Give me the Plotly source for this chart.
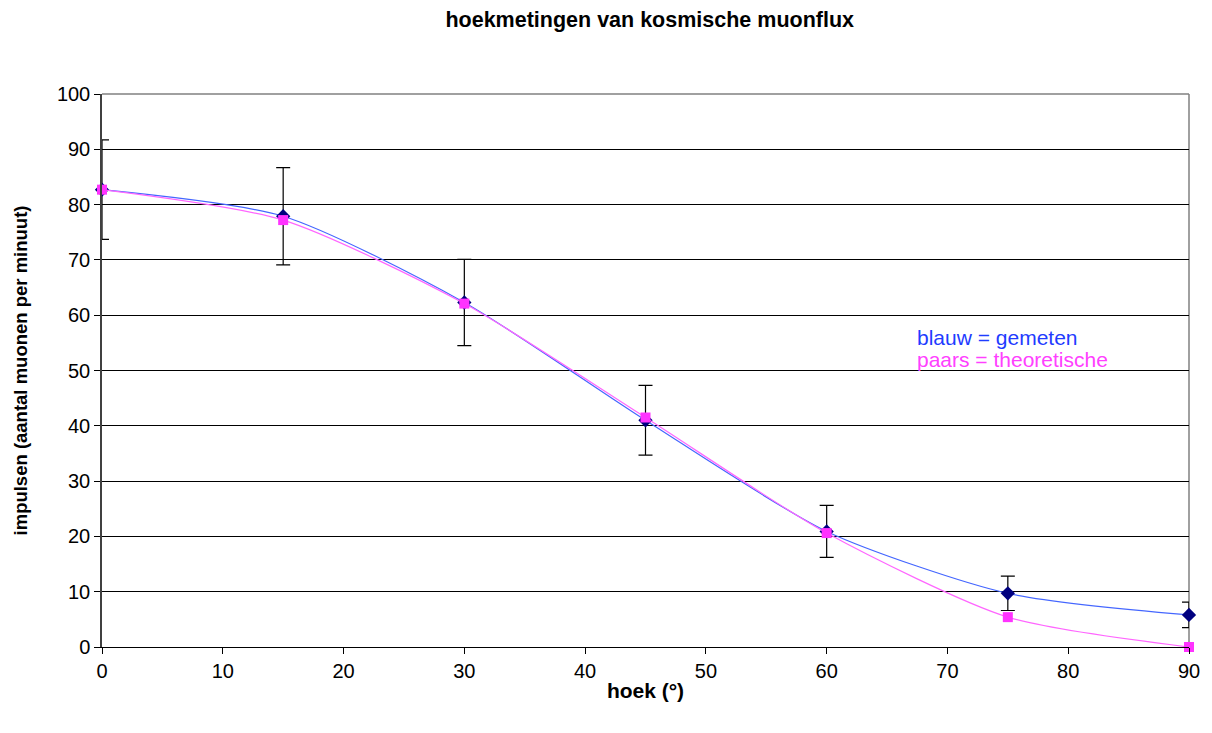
import plotly.graph_objects as go

# ---- data ----
angles = [0, 15, 30, 45, 60, 75, 90]
measured = [82.7, 77.9, 62.3, 41.0, 20.9, 9.7, 5.8]
measured_err = [9.0, 8.8, 7.8, 6.3, 4.7, 3.1, 2.3]
theoretical = [82.7, 77.2, 62.1, 41.5, 20.6, 5.4, 0.0]

title_text = "hoekmetingen van kosmische muonflux"
x_title = "hoek (°)"
y_title = "impulsen (aantal muonen per minuut)"
note_blue = "blauw = gemeten"
note_pink = "paars = theoretische"
note_x = 67.3
note_blue_y = 56.0
note_pink_y = 51.9
x_ticks = list(range(0, 91, 10))
y_ticks = list(range(0, 101, 10))

FONT = "Liberation Sans, Arial, sans-serif"

fig = go.Figure()

fig.add_trace(go.Scatter(
    x=angles, y=measured, mode="lines+markers",
    line=dict(color="#4466ff", width=1.2, shape="spline", smoothing=0.7),
    marker=dict(symbol="diamond", size=11, color="#000080"),
    error_y=dict(type="data", array=measured_err, visible=True,
                 color="black", thickness=1.2, width=7),
    cliponaxis=False, showlegend=False,
))
fig.add_trace(go.Scatter(
    x=angles, y=theoretical, mode="lines+markers",
    line=dict(color="#ff66ff", width=1.2, shape="spline", smoothing=0.7),
    marker=dict(symbol="square", size=10, color="#ff33ff"),
    cliponaxis=False, showlegend=False,
))

fig.add_annotation(x=note_x, y=note_blue_y, xref="x", yref="y", text=note_blue,
                   showarrow=False, xanchor="left", yanchor="middle",
                   font=dict(family=FONT, size=21, color="#1f3cff"))
fig.add_annotation(x=note_x, y=note_pink_y, xref="x", yref="y", text=note_pink,
                   showarrow=False, xanchor="left", yanchor="middle",
                   font=dict(family=FONT, size=21, color="#ff40ff"))

# plot-area border (top/right gray)
fig.add_shape(type="line", xref="paper", yref="paper", x0=0, x1=1, y0=1, y1=1,
              line=dict(color="#808080", width=1.5), layer="below")
fig.add_shape(type="line", xref="paper", yref="paper", x0=1, x1=1, y0=0, y1=1,
              line=dict(color="#808080", width=1.5), layer="below")

fig.update_layout(
    width=1204, height=725,
    margin=dict(l=92, r=22, t=86, b=86),
    paper_bgcolor="white", plot_bgcolor="white",
    font=dict(family=FONT, size=20, color="black"),
    title=dict(text=title_text, x=0.533, xanchor="center", y=1 - 11 / 725,
               yref="container", yanchor="middle",
               font=dict(family=FONT, size=21.5, color="black", weight="bold")),
    xaxis=dict(
        range=[0, 90], tickmode="array", tickvals=x_ticks,
        ticks="outside", ticklen=6, tickcolor="black", tickwidth=1,
        showgrid=False, zeroline=False,
        showline=True, linecolor="black", linewidth=1.2,
        tickfont=dict(family=FONT, size=20),
        title=dict(text=x_title, standoff=2,
                   font=dict(family=FONT, size=21, weight="bold")),
    ),
    yaxis=dict(
        range=[0, 100], tickmode="array", tickvals=y_ticks,
        ticks="outside", ticklen=6, tickcolor="black", tickwidth=1,
        showgrid=True, gridcolor="black", gridwidth=1, zeroline=False,
        showline=True, linecolor="#404040", linewidth=1.5,
        tickfont=dict(family=FONT, size=20),
        title=dict(text=y_title, standoff=24,
                   font=dict(family=FONT, size=18.5, weight="bold")),
    ),
)

fig.write_html("out.html")
